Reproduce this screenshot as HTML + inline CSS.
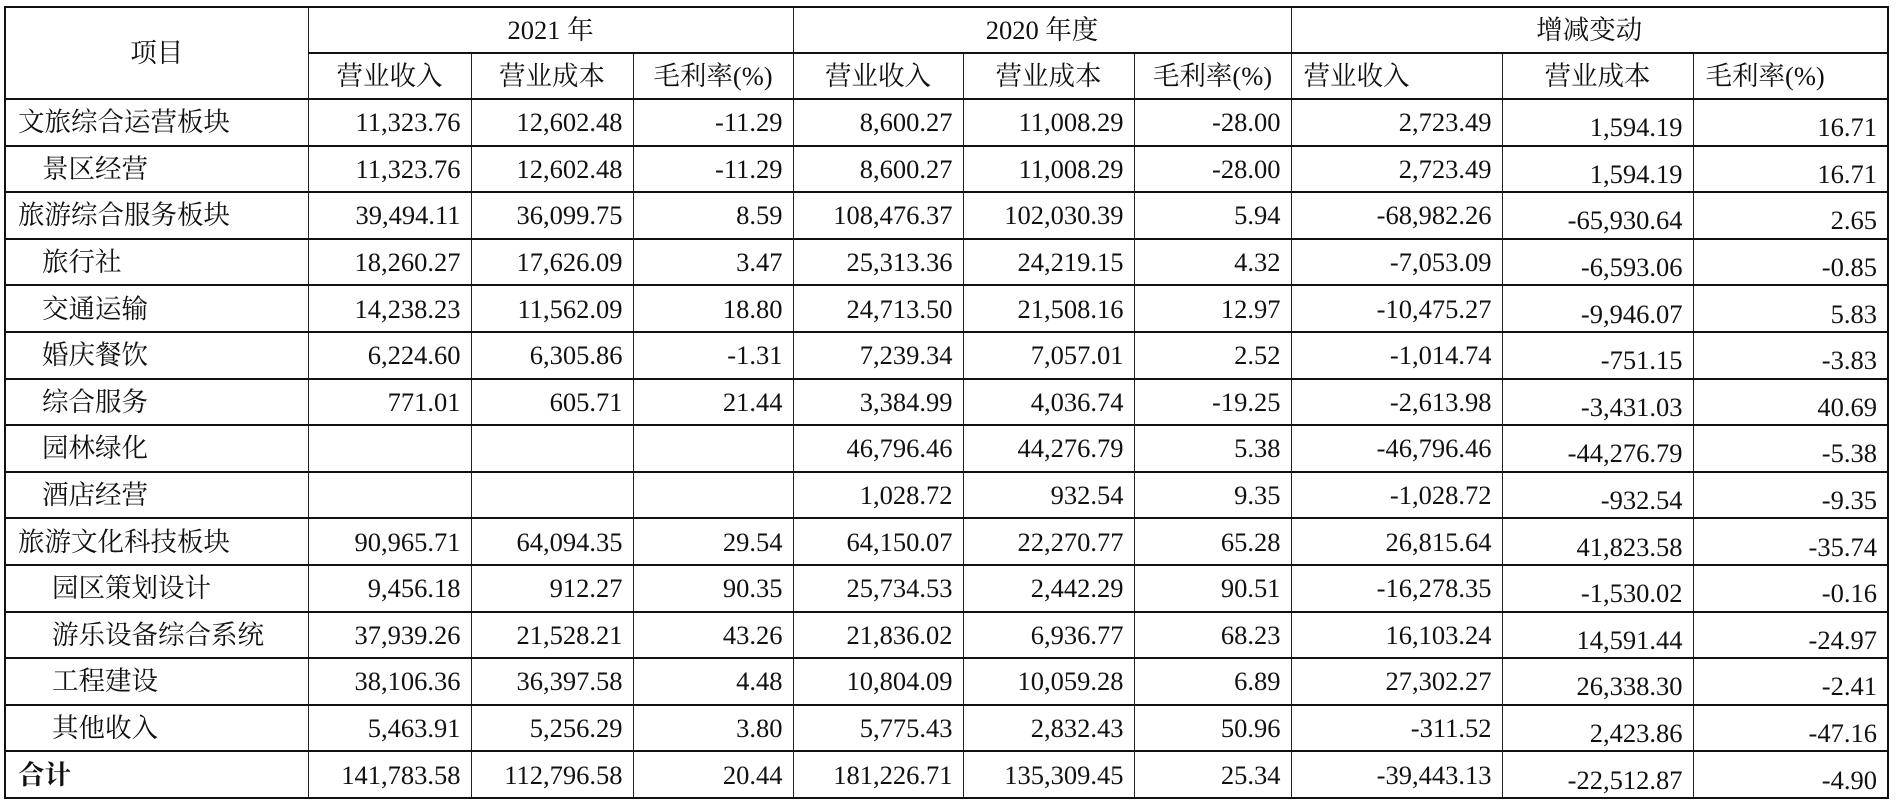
<!DOCTYPE html>
<html><head><meta charset="utf-8"><style>
html,body{margin:0;padding:0;background:#fff;width:1898px;height:806px;overflow:hidden}
table{position:absolute;left:4px;top:6px;border-collapse:collapse;table-layout:fixed;font-family:"Liberation Serif","Noto Serif CJK SC",serif;font-size:26.5px;color:#111}
td{border:1px solid #222;border-top:2px solid #111;border-bottom:2px solid #111;height:44.6px;padding:0 10px;white-space:nowrap;text-align:right;line-height:28px;vertical-align:middle}
td.l{text-align:left;padding-left:12px}
td.s1{text-align:left;padding-left:36px}
td.s2{text-align:left;padding-left:46px}
td.c{text-align:center}
td.lo{padding-top:10px;height:34.6px}
tr.h td{height:44px}
table{border:2px solid #111}
b{font-weight:bold}
</style></head><body>
<table>
<colgroup><col style="width:303px"><col style="width:163px"><col style="width:162px"><col style="width:160px"><col style="width:170px"><col style="width:171px"><col style="width:157px"><col style="width:211px"><col style="width:191px"><col style="width:195px"></colgroup>
<tr class="h"><td class="c" rowspan="2">项目</td><td class="c" colspan="3">2021 年</td><td class="c" colspan="3">2020 年度</td><td class="c" colspan="3">增减变动</td></tr>
<tr class="h"><td class="c">营业收入</td><td class="c">营业成本</td><td class="c">毛利率(%)</td><td class="c">营业收入</td><td class="c">营业成本</td><td class="c">毛利率(%)</td><td class="l">营业收入</td><td class="c">营业成本</td><td class="l">毛利率(%)</td></tr>
<tr><td class="l">文旅综合运营板块</td><td>11,323.76</td><td>12,602.48</td><td>-11.29</td><td>8,600.27</td><td>11,008.29</td><td>-28.00</td><td>2,723.49</td><td class="lo">1,594.19</td><td class="lo">16.71</td></tr>
<tr><td class="s1">景区经营</td><td>11,323.76</td><td>12,602.48</td><td>-11.29</td><td>8,600.27</td><td>11,008.29</td><td>-28.00</td><td>2,723.49</td><td class="lo">1,594.19</td><td class="lo">16.71</td></tr>
<tr><td class="l">旅游综合服务板块</td><td>39,494.11</td><td>36,099.75</td><td>8.59</td><td>108,476.37</td><td>102,030.39</td><td>5.94</td><td>-68,982.26</td><td class="lo">-65,930.64</td><td class="lo">2.65</td></tr>
<tr><td class="s1">旅行社</td><td>18,260.27</td><td>17,626.09</td><td>3.47</td><td>25,313.36</td><td>24,219.15</td><td>4.32</td><td>-7,053.09</td><td class="lo">-6,593.06</td><td class="lo">-0.85</td></tr>
<tr><td class="s1">交通运输</td><td>14,238.23</td><td>11,562.09</td><td>18.80</td><td>24,713.50</td><td>21,508.16</td><td>12.97</td><td>-10,475.27</td><td class="lo">-9,946.07</td><td class="lo">5.83</td></tr>
<tr><td class="s1">婚庆餐饮</td><td>6,224.60</td><td>6,305.86</td><td>-1.31</td><td>7,239.34</td><td>7,057.01</td><td>2.52</td><td>-1,014.74</td><td class="lo">-751.15</td><td class="lo">-3.83</td></tr>
<tr><td class="s1">综合服务</td><td>771.01</td><td>605.71</td><td>21.44</td><td>3,384.99</td><td>4,036.74</td><td>-19.25</td><td>-2,613.98</td><td class="lo">-3,431.03</td><td class="lo">40.69</td></tr>
<tr><td class="s1">园林绿化</td><td></td><td></td><td></td><td>46,796.46</td><td>44,276.79</td><td>5.38</td><td>-46,796.46</td><td class="lo">-44,276.79</td><td class="lo">-5.38</td></tr>
<tr><td class="s1">酒店经营</td><td></td><td></td><td></td><td>1,028.72</td><td>932.54</td><td>9.35</td><td>-1,028.72</td><td class="lo">-932.54</td><td class="lo">-9.35</td></tr>
<tr><td class="l">旅游文化科技板块</td><td>90,965.71</td><td>64,094.35</td><td>29.54</td><td>64,150.07</td><td>22,270.77</td><td>65.28</td><td>26,815.64</td><td class="lo">41,823.58</td><td class="lo">-35.74</td></tr>
<tr><td class="s2">园区策划设计</td><td>9,456.18</td><td>912.27</td><td>90.35</td><td>25,734.53</td><td>2,442.29</td><td>90.51</td><td>-16,278.35</td><td class="lo">-1,530.02</td><td class="lo">-0.16</td></tr>
<tr><td class="s2">游乐设备综合系统</td><td>37,939.26</td><td>21,528.21</td><td>43.26</td><td>21,836.02</td><td>6,936.77</td><td>68.23</td><td>16,103.24</td><td class="lo">14,591.44</td><td class="lo">-24.97</td></tr>
<tr><td class="s2">工程建设</td><td>38,106.36</td><td>36,397.58</td><td>4.48</td><td>10,804.09</td><td>10,059.28</td><td>6.89</td><td>27,302.27</td><td class="lo">26,338.30</td><td class="lo">-2.41</td></tr>
<tr><td class="s2">其他收入</td><td>5,463.91</td><td>5,256.29</td><td>3.80</td><td>5,775.43</td><td>2,832.43</td><td>50.96</td><td>-311.52</td><td class="lo">2,423.86</td><td class="lo">-47.16</td></tr>
<tr><td class="l"><b>合计</b></td><td>141,783.58</td><td>112,796.58</td><td>20.44</td><td>181,226.71</td><td>135,309.45</td><td>25.34</td><td>-39,443.13</td><td class="lo">-22,512.87</td><td class="lo">-4.90</td></tr>
</table>
</body></html>
